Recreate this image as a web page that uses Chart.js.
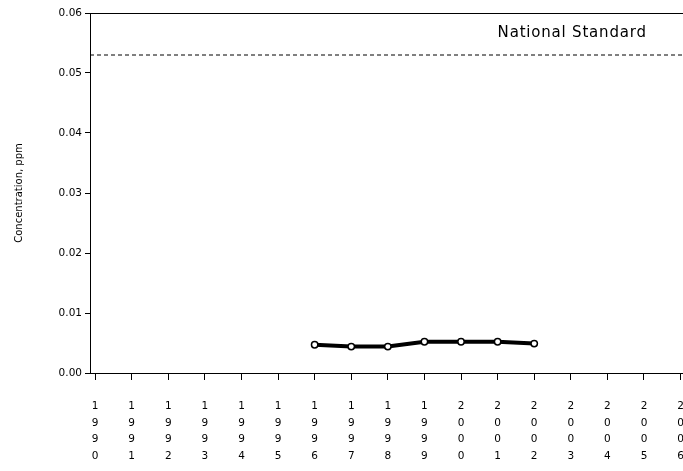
<!DOCTYPE html>
<html>
<head>
<meta charset="utf-8">
<script src="https://cdn.jsdelivr.net/npm/chart.js@4/dist/chart.umd.min.js"></script>
<style>
  body { margin: 0; background: #fff; }
  #wrap { width: 683px; height: 471px; overflow: hidden; }
</style>
</head>
<body>
<div id="wrap"><canvas id="chart" width="689" height="471"></canvas></div>
<script>
// data
var years = [1990, 1991, 1992, 1993, 1994, 1995, 1996, 1997, 1998, 1999, 2000, 2001, 2002, 2003, 2004, 2005, 2006];
var concYears = [1996, 1997, 1998, 1999, 2000, 2001, 2002];
var concValues = [0.0047, 0.0044, 0.0044, 0.0052, 0.0052, 0.0052, 0.0049];
var standardValue = 0.053;
var standardLabel = "National Standard";
var yTicks = [0, 0.01, 0.02, 0.03, 0.04, 0.05, 0.06];

var xMin = 1989.86, xMax = 2006.08;
var font = "'DejaVu Sans', sans-serif";

// label for the standard line, placed through the scales
var standardText = {
  id: "standardText",
  afterDatasetsDraw: function(chart) {
    var ctx = chart.ctx;
    var x = chart.scales.x.getPixelForValue(2001);
    var y = chart.scales.y.getPixelForValue(0.0560);
    ctx.save();
    ctx.fillStyle = "#000";
    ctx.font = "15px " + font;
    ctx.letterSpacing = "0.8px";
    ctx.textAlign = "left";
    ctx.textBaseline = "alphabetic";
    ctx.fillText(standardLabel, x, y);
    ctx.restore();
  }
};

function noSidePadding(scale) {
  scale.paddingLeft = 0;
  scale.paddingRight = 0;
}

var ctx = document.getElementById("chart").getContext("2d");
var chart = new Chart(ctx, {
  type: "line",
  data: {
    datasets: [{
      label: "Concentration",
      data: concYears.map(function(yr, i) { return { x: yr, y: concValues[i] }; }),
      borderColor: "#000",
      borderWidth: 4,
      pointStyle: "circle",
      pointRadius: 3.2,
      pointBorderWidth: 1.5,
      pointBackgroundColor: "#fff",
      pointBorderColor: "#000",
      tension: 0
    }, {
      label: standardLabel,
      data: [{ x: xMin, y: standardValue }, { x: xMax, y: standardValue }],
      borderColor: "#000",
      borderWidth: 1,
      borderDash: [4, 3],
      pointRadius: 0
    }]
  },
  options: {
    responsive: false,
    animation: false,
    layout: { padding: { top: 13, right: 0, left: 0, bottom: 0 } },
    plugins: { legend: { display: false }, tooltip: { enabled: false } },
    scales: {
      x: {
        type: "linear",
        min: xMin,
        max: xMax,
        afterBuildTicks: function(scale) {
          scale.ticks = years.map(function(v) { return { value: v }; });
        },
        afterFit: function(scale) { scale.height = 98; noSidePadding(scale); },
        grid: { drawOnChartArea: false, color: "#000", tickLength: 7 },
        border: { color: "#000", width: 1 },
        ticks: {
          autoSkip: false,
          maxRotation: 0,
          padding: 18,
          color: "#000",
          font: { family: font, size: 10.5, lineHeight: 1.58 },
          callback: function(v) { return String(v).split(""); }
        }
      },
      xTop: {
        type: "linear",
        position: "top",
        min: xMin,
        max: xMax,
        afterFit: function(scale) { scale.height = 0; noSidePadding(scale); },
        grid: { display: false },
        border: { display: true, color: "#000", width: 1 },
        ticks: { display: false }
      },
      y: {
        min: 0,
        max: 0.06,
        afterBuildTicks: function(scale) {
          scale.ticks = yTicks.map(function(v) { return { value: v }; });
        },
        afterFit: function(scale) { scale.width = 90; },
        grid: { drawOnChartArea: false, color: "#000", tickLength: 5 },
        border: { color: "#000", width: 1 },
        ticks: {
          padding: 3,
          color: "#000",
          font: { family: font, size: 10.5 },
          callback: function(v) { return v.toFixed(2); }
        },
        title: {
          display: true,
          text: "Concentration, ppm",
          color: "#000",
          font: { family: font, size: 10 },
          padding: { top: 13, bottom: 0 }
        }
      }
    }
  },
  plugins: [standardText]
});
</script>
</body>
</html>
